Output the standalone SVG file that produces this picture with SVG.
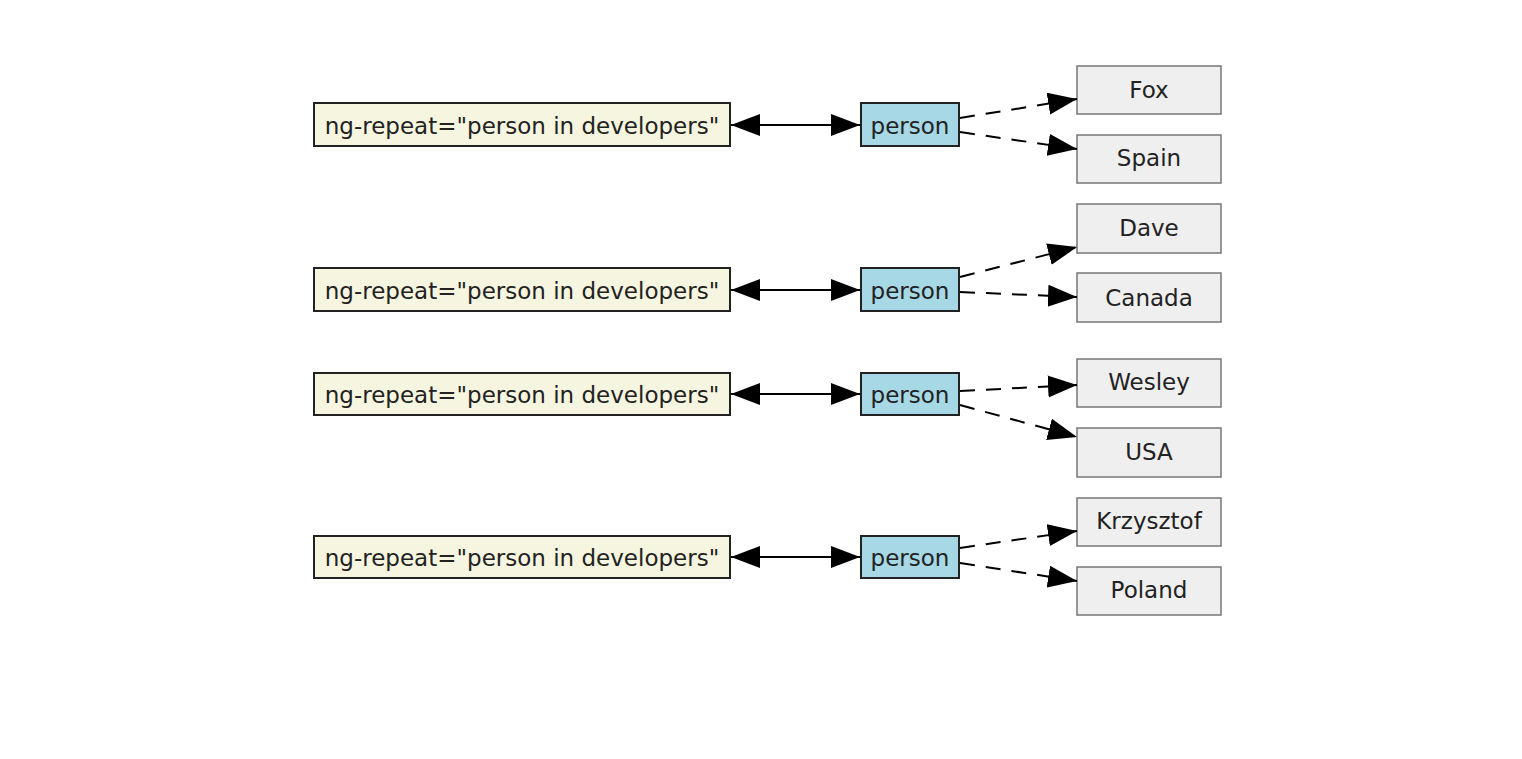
<svg xmlns="http://www.w3.org/2000/svg" width="1522" height="759" viewBox="0 0 1522 759">
<style>
.rep{fill:#f6f5df;stroke:#222;stroke-width:2}
.per{fill:#a7d8e6;stroke:#222;stroke-width:2}
.val{fill:#efefef;stroke:#777;stroke-width:1.5}
text{font-family:"DejaVu Sans",sans-serif;font-size:23px;fill:#222;text-anchor:middle;dominant-baseline:central}
.solid{stroke:#000;stroke-width:2;fill:none}
.dash{stroke:#000;stroke-width:2;fill:none;stroke-dasharray:15 11}
</style>
<defs>
<marker id="ah" markerUnits="userSpaceOnUse" markerWidth="32" markerHeight="24" refX="29" refY="11" orient="auto-start-reverse">
<path d="M0,0 L29,11 L0,22 Z" fill="#000"/>
</marker>
</defs>
<rect width="1522" height="759" fill="#fff"/>
<g id="rep1"><rect class="rep" x="314" y="103" width="416" height="43"/><text x="522" y="126">ng-repeat="person in developers"</text></g>
<g id="rep2"><rect class="rep" x="314" y="268" width="416" height="43"/><text x="522" y="291">ng-repeat="person in developers"</text></g>
<g id="rep3"><rect class="rep" x="314" y="373" width="416" height="42"/><text x="522" y="395">ng-repeat="person in developers"</text></g>
<g id="rep4"><rect class="rep" x="314" y="536" width="416" height="42"/><text x="522" y="558">ng-repeat="person in developers"</text></g>
<g id="per1"><rect class="per" x="861" y="103" width="98" height="43"/><text x="910" y="126">person</text></g>
<g id="per2"><rect class="per" x="861" y="268" width="98" height="43"/><text x="910" y="291">person</text></g>
<g id="per3"><rect class="per" x="861" y="373" width="98" height="42"/><text x="910" y="395">person</text></g>
<g id="per4"><rect class="per" x="861" y="536" width="98" height="42"/><text x="910" y="558">person</text></g>
<g id="fox"><rect class="val" x="1077" y="66" width="144" height="48"/><text x="1149" y="90">Fox</text></g>
<g id="spain"><rect class="val" x="1077" y="135" width="144" height="48"/><text x="1149" y="158">Spain</text></g>
<g id="dave"><rect class="val" x="1077" y="204" width="144" height="49"/><text x="1149" y="228">Dave</text></g>
<g id="canada"><rect class="val" x="1077" y="273" width="144" height="49"/><text x="1149" y="298">Canada</text></g>
<g id="wesley"><rect class="val" x="1077" y="359" width="144" height="48"/><text x="1149" y="382">Wesley</text></g>
<g id="usa"><rect class="val" x="1077" y="428" width="144" height="49"/><text x="1149" y="452">USA</text></g>
<g id="krzysztof"><rect class="val" x="1077" y="498" width="144" height="48"/><text x="1149" y="521">Krzysztof</text></g>
<g id="poland"><rect class="val" x="1077" y="567" width="144" height="48"/><text x="1149" y="590">Poland</text></g>
<g id="connectors">
<line class="solid" x1="731" y1="125" x2="860" y2="125" marker-start="url(#ah)" marker-end="url(#ah)"/>
<line class="solid" x1="731" y1="290" x2="860" y2="290" marker-start="url(#ah)" marker-end="url(#ah)"/>
<line class="solid" x1="731" y1="394" x2="860" y2="394" marker-start="url(#ah)" marker-end="url(#ah)"/>
<line class="solid" x1="731" y1="557" x2="860" y2="557" marker-start="url(#ah)" marker-end="url(#ah)"/>
<line class="dash" x1="960" y1="118" x2="1077" y2="99" marker-end="url(#ah)"/>
<line class="dash" x1="960" y1="132" x2="1077" y2="149" marker-end="url(#ah)"/>
<line class="dash" x1="960" y1="277" x2="1077" y2="247" marker-end="url(#ah)"/>
<line class="dash" x1="960" y1="292" x2="1077" y2="297" marker-end="url(#ah)"/>
<line class="dash" x1="960" y1="391" x2="1077" y2="385" marker-end="url(#ah)"/>
<line class="dash" x1="960" y1="405" x2="1077" y2="437" marker-end="url(#ah)"/>
<line class="dash" x1="960" y1="548" x2="1077" y2="531" marker-end="url(#ah)"/>
<line class="dash" x1="960" y1="563" x2="1077" y2="581" marker-end="url(#ah)"/>
</g>
</svg>
